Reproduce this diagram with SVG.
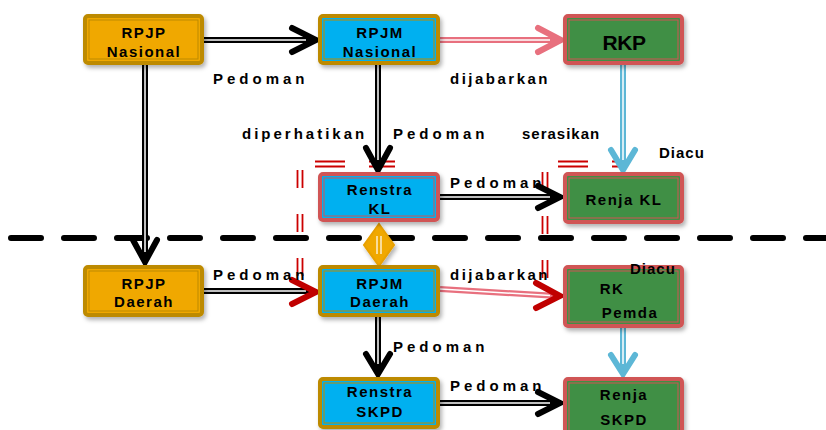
<svg xmlns="http://www.w3.org/2000/svg" width="826" height="430" viewBox="0 0 826 430">
<defs>
<filter id="sh" x="-10%" y="-10%" width="130%" height="140%">
<feDropShadow dx="2" dy="3" stdDeviation="2" flood-color="#000" flood-opacity="0.3"/>
</filter>
</defs>
<style>
.box{stroke-width:4;filter:url(#sh)}
.inner{fill:none;stroke-width:1}
.gold{stroke:#BD8A00}
.red{stroke:#D05555}
.orange{fill:#F0A800}
.cyan{fill:#00B0F0}
.green{fill:#3F8F45}
.nt{font-family:"Liberation Sans",Arial,sans-serif;font-weight:bold;font-size:15px;letter-spacing:1.5px;fill:#000;text-anchor:middle}
.lb{font-family:"Liberation Sans",Arial,sans-serif;font-weight:bold;font-size:15px;letter-spacing:4px;fill:#000}
.shaft{fill:none;stroke-width:6;stroke-linecap:butt}
.core{fill:none;stroke:#fff;stroke-width:1.5}
.head{fill:none;stroke-width:6;stroke-linecap:round;stroke-linejoin:miter}
.blk{stroke:#000}
.pink{stroke:#E8707E}
.dred{stroke:#C00000}
.lblue{stroke:#5DB7D6}
.rdash{fill:none;stroke:#CC0000;stroke-width:1.8;stroke-dasharray:18 26}
</style>

<g id="boundaries">
<line x1="11" y1="238" x2="826" y2="238" stroke="#000" stroke-width="6" stroke-linecap="round" stroke-dasharray="30 23"/>
<path class="rdash" d="M297.5 170 V290 M302.5 170 V290"/>
<path class="rdash" d="M542.5 172 V290 M547.5 172 V290"/>
<path class="rdash" d="M315 161.5 H395 M315 166.5 H395" style="stroke-dasharray:30 24"/>
<path class="rdash" d="M558 161.5 H620 M558 166.5 H620" style="stroke-dasharray:30 24"/>
</g>

<g id="connectors">
<line class="shaft blk" x1="203" y1="40" x2="314" y2="40"/>
<line class="core" x1="203" y1="40" x2="306" y2="40"/>
<path class="head blk" d="M292 28 L316 40 L292 52"/>
<line class="shaft pink" x1="440" y1="40" x2="558" y2="40"/>
<line class="core" x1="440" y1="40" x2="550" y2="40"/>
<path class="head pink" d="M538 28 L561 40 L538 52"/>
<line class="shaft blk" x1="145" y1="64" x2="145" y2="260"/>
<line class="core" x1="145" y1="64" x2="145" y2="252"/>
<path class="head blk" d="M133 240 L145 262 L157 240"/>
<line class="shaft blk" x1="378" y1="64" x2="378" y2="168"/>
<line class="core" x1="378" y1="64" x2="378" y2="160"/>
<path class="head blk" d="M366 148 L378 170 L390 148"/>
<line class="shaft lblue" x1="623" y1="64" x2="623" y2="168"/>
<line class="core" x1="623" y1="64" x2="623" y2="160"/>
<path class="head lblue" d="M611 150 L623 170 L635 150"/>
<line class="shaft blk" x1="440" y1="197" x2="558" y2="197"/>
<line class="core" x1="440" y1="197" x2="550" y2="197"/>
<path class="head blk" d="M538 186 L560 197 L538 208"/>
<line class="shaft blk" x1="203" y1="291" x2="314" y2="291"/>
<line class="core" x1="203" y1="291" x2="306" y2="291"/>
<path class="head dred" d="M292 280 L316 292 L292 304"/>
<line class="shaft pink" x1="440" y1="289" x2="558" y2="296"/>
<line class="core" x1="440" y1="289" x2="550" y2="295.5"/>
<path class="head dred" d="M536 283 L560 296 L536 308"/>
<line class="shaft blk" x1="378" y1="317" x2="378" y2="372"/>
<line class="core" x1="378" y1="317" x2="378" y2="364"/>
<path class="head blk" d="M366 354 L378 374 L390 354"/>
<line class="shaft lblue" x1="623" y1="327" x2="623" y2="372"/>
<line class="core" x1="623" y1="327" x2="623" y2="364"/>
<path class="head lblue" d="M611 355 L623 374 L635 355"/>
<line class="shaft blk" x1="440" y1="403" x2="558" y2="403"/>
<line class="core" x1="440" y1="403" x2="550" y2="403"/>
<path class="head blk" d="M538 392 L560 403 L538 414"/>
</g>

<g id="diamond">
<path d="M379 224 L394 245 L379 266 L364 245 Z" fill="#F0A800" stroke="#E8A000" stroke-width="2" filter="url(#sh)"/>
<path d="M377 236 V254 M381 236 V254" stroke="#fff" stroke-width="1.2" fill="none"/>
</g>

<g id="rpjp-nasional">
<rect class="box gold orange" x="85" y="16" width="117" height="47" rx="3"/>
<rect class="inner gold" x="89" y="20" width="109" height="39"/>
<text class="nt" x="144" y="38">RPJP</text>
<text class="nt" x="144" y="57">Nasional</text>
</g>

<g id="rpjm-nasional">
<rect class="box gold cyan" x="320" y="16" width="118" height="47" rx="3"/>
<rect class="inner gold" x="324" y="20" width="110" height="39"/>
<text class="nt" x="380" y="38">RPJM</text>
<text class="nt" x="380" y="57">Nasional</text>
</g>

<g id="rkp">
<rect class="box red green" x="565" y="16" width="117" height="47" rx="3"/>
<rect class="inner red" x="569" y="20" width="109" height="39"/>
<text class="nt" x="624" y="50" style="font-size:21px;letter-spacing:-0.5px">RKP</text>
</g>

<g id="renstra-kl">
<rect class="box red cyan" x="320" y="174" width="118" height="46" rx="3"/>
<rect class="inner red" x="324" y="178" width="110" height="38"/>
<text class="nt" x="380" y="195">Renstra</text>
<text class="nt" x="380" y="214">KL</text>
</g>

<g id="renja-kl">
<rect class="box red green" x="565" y="174" width="117" height="48" rx="3"/>
<rect class="inner red" x="569" y="178" width="109" height="40"/>
<text class="nt" x="624" y="205">Renja KL</text>
</g>

<g id="rpjp-daerah">
<rect class="box gold orange" x="85" y="267" width="117" height="48" rx="3"/>
<rect class="inner gold" x="89" y="271" width="109" height="40"/>
<text class="nt" x="144" y="289">RPJP</text>
<text class="nt" x="144" y="307">Daerah</text>
</g>

<g id="rpjm-daerah">
<rect class="box gold cyan" x="320" y="267" width="118" height="48" rx="3"/>
<rect class="inner gold" x="324" y="271" width="110" height="40"/>
<text class="nt" x="380" y="289">RPJM</text>
<text class="nt" x="380" y="307">Daerah</text>
</g>

<g id="rk-pemda">
<rect class="box red green" x="565" y="267" width="117" height="59" rx="3"/>
<rect class="inner red" x="569" y="271" width="109" height="51"/>
<text class="nt" x="612" y="294">RK</text>
<text class="nt" x="630" y="318">Pemda</text>
</g>

<g id="renstra-skpd">
<rect class="box gold cyan" x="320" y="379" width="118" height="48" rx="3"/>
<rect class="inner gold" x="324" y="383" width="110" height="40"/>
<text class="nt" x="380" y="397">Renstra</text>
<text class="nt" x="380" y="417">SKPD</text>
</g>

<g id="renja-skpd">
<rect class="box red green" x="565" y="379" width="117" height="56" rx="3"/>
<rect class="inner red" x="569" y="383" width="109" height="50"/>
<text class="nt" x="624" y="400">Renja</text>
<text class="nt" x="624" y="425">SKPD</text>
</g>

<g id="labels">
<text class="lb" x="213" y="84">Pedoman</text>
<text class="lb" x="450" y="84" style="letter-spacing:2.5px">dijabarkan</text>
<text class="lb" x="242" y="139" style="letter-spacing:3px">diperhatikan</text>
<text class="lb" x="393" y="139">Pedoman</text>
<text class="lb" x="522" y="139" style="letter-spacing:1px">serasikan</text>
<text class="lb" x="659" y="158" style="letter-spacing:1px">Diacu</text>
<text class="lb" x="450" y="188">Pedoman</text>
<text class="lb" x="213" y="280">Pedoman</text>
<text class="lb" x="450" y="280" style="letter-spacing:2.5px">dijabarkan</text>
<text class="lb" x="630" y="274" style="letter-spacing:1px">Diacu</text>
<text class="lb" x="393" y="352">Pedoman</text>
<text class="lb" x="450" y="391">Pedoman</text>
</g>
</svg>
